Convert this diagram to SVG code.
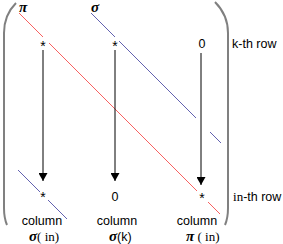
<svg xmlns="http://www.w3.org/2000/svg" width="283" height="244" viewBox="0 0 283 244">
<defs>
<style>
.paren{fill:none;stroke:#808080;stroke-width:2}
.red{stroke:#f86060;stroke-width:1}
.blue{stroke:#6262b0;stroke-width:1}
.arr{stroke:#000;stroke-width:1}
.t{font-family:"Liberation Sans",Arial,sans-serif;font-size:12.5px;fill:#000}
.st{font-family:"Liberation Sans",Arial,sans-serif;font-size:14px;fill:#000}
.g{font-family:"Liberation Serif","Times New Roman",serif;font-size:15px;font-weight:bold;font-style:italic;fill:#000}
.s{font-family:"Liberation Serif","Times New Roman",serif;font-size:13px;fill:#000}
</style>
<marker id="ah" markerWidth="9" markerHeight="9" refX="8" refY="4.5" orient="auto" markerUnits="userSpaceOnUse">
<path d="M0,0 L8,4.5 L0,9 Z" fill="#000"/>
</marker>
</defs>
<g id="brackets">
<path class="paren" d="M16,3 Q4,15 4,33 L4,208 Q4,218 7,225"/>
<path class="paren" d="M215,2 Q228,15 228,33 L228,208 Q228,218 225,225"/>
</g>
<g id="diagonals">
<line class="red" x1="19" y1="13" x2="43" y2="37"/>
<line class="red" x1="49" y1="43" x2="197" y2="191"/>
<line class="red" x1="208" y1="202" x2="220" y2="214"/>
<line class="blue" x1="91" y1="13" x2="115" y2="37"/>
<line class="blue" x1="119" y1="41" x2="196" y2="118"/>
<line class="blue" x1="210" y1="132" x2="221" y2="143"/>
<line class="blue" x1="18" y1="170" x2="40" y2="192"/>
<line class="blue" x1="48" y1="200" x2="67" y2="219"/>
</g>
<g id="connectors">
<line class="arr" x1="43" y1="50" x2="43" y2="181" marker-end="url(#ah)"/>
<line class="arr" x1="115" y1="50" x2="115" y2="181" marker-end="url(#ah)"/>
<line class="arr" x1="201" y1="53" x2="201" y2="185" marker-end="url(#ah)"/>
</g>
<g id="top-row">
<text class="g" x="19" y="12">π</text>
<text class="g" x="91" y="12">σ</text>
<text class="st" x="43" y="51" text-anchor="middle">*</text>
<text class="st" x="115" y="51" text-anchor="middle">*</text>
<text class="t" x="202" y="48" text-anchor="middle">0</text>
<text class="t" x="232" y="48">k-th row</text>
</g>
<g id="bottom-row">
<text class="st" x="43" y="202" text-anchor="middle">*</text>
<text class="t" x="115" y="201" text-anchor="middle">0</text>
<text class="st" x="202" y="203" text-anchor="middle">*</text>
<text class="t" x="233" y="201"><tspan class="s">i</tspan><tspan class="s" font-size="10.5">n</tspan>-th row</text>
</g>
<g id="col1">
<text class="t" x="42" y="225" text-anchor="middle">column</text>
<text x="29" y="241"><tspan class="g" font-size="14">σ</tspan><tspan class="s" font-size="12.5">( i</tspan><tspan class="s" font-size="10">n</tspan><tspan class="s" font-size="12.5">)</tspan></text>
</g>
<g id="col2">
<text class="t" x="117" y="225" text-anchor="middle">column</text>
<text x="109" y="241"><tspan class="g" font-size="14">σ</tspan><tspan class="t" font-size="12.5">(k)</tspan></text>
</g>
<g id="col3">
<text class="t" x="197" y="225" text-anchor="middle">column</text>
<text x="186" y="241"><tspan class="g" font-size="14">π</tspan><tspan class="s" font-size="12.5"> ( i</tspan><tspan class="s" font-size="10">n</tspan><tspan class="s" font-size="12.5">)</tspan></text>
</g>
</svg>
